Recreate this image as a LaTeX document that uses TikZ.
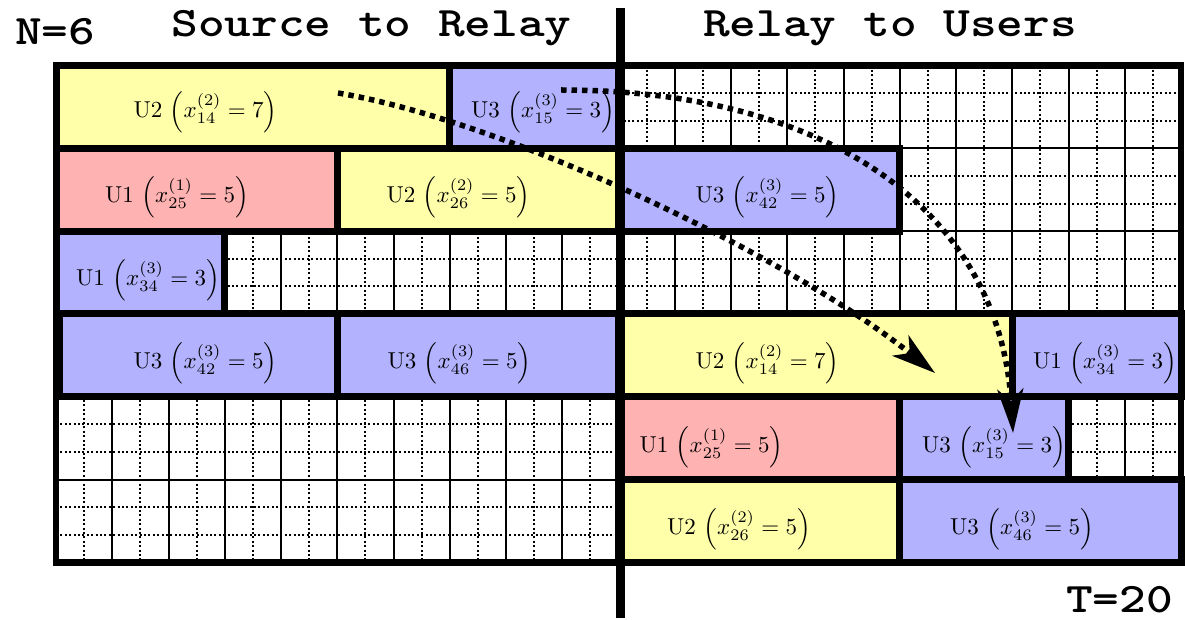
\documentclass[tikz,border=0pt]{standalone}
\usepackage{graphicx}
\usetikzlibrary{arrows.meta}
\definecolor{uyel}{RGB}{255,255,170}
\definecolor{upnk}{RGB}{255,178,178}
\definecolor{ublu}{RGB}{178,178,255}
\newcommand\ulab[4]{\scalebox{2.3}{U#1~$\left(x^{(#2)}_{#3}=#4\right)$}}
\tikzset{
  gridline/.style={line width=2pt,black},
  subline/.style={line width=2pt,black,dash pattern=on 2pt off 2.4pt},
  ubox/.style={draw=black,line width=7pt,inner sep=0pt,outer sep=0pt,anchor=north west},
  frameline/.style={line width=6.5pt,black},
  ulabel/.style={font=\normalsize,inner sep=0pt,text=black},
  ttl/.style={font=\fontsize{42}{48}\selectfont\ttfamily\bfseries,inner sep=0pt},
  flow/.style={line width=5.5pt,dash pattern=on 5.5pt off 5pt,-{Stealth[length=44pt,width=26pt,inset=12pt]}}
}
\newcommand\cw{56.25}
\newcommand\rh{82.83}
% #1 name, #2 first column, #3 number of columns, #4 row, #5 colour
\newcommand\placebox[5]{%
  \node[ubox,fill=#5,minimum width={#3*\cw pt},minimum height={\rh pt}] (#1) at ({56+#2*\cw},{65.5+#4*\rh}) {};}
\begin{document}
\begin{tikzpicture}[x=1pt,y=-1pt]
\useasboundingbox (0,0) rectangle (1185,620);
% grid
\foreach \i in {0,...,19} \draw[subline] ({56+(\i+0.5)*\cw},65.5) -- ++(0,497);
\foreach \j in {0,...,5} \foreach \k in {1,2} \draw[subline] (56,{65.5+(\j+\k/3)*\rh}) -- (1181,{65.5+(\j+\k/3)*\rh});
\foreach \i in {1,...,19} \draw[gridline] ({56+\i*\cw},65.5) -- ++(0,497);
\foreach \j in {1,...,5} \draw[gridline] (56,{65.5+\j*\rh}) -- (1181,{65.5+\j*\rh});
% source to relay
\placebox{sA}{0}{7}{0}{uyel}
\placebox{sB}{7}{3}{0}{ublu}
\placebox{sC}{0}{5}{1}{upnk}
\placebox{sD}{5}{5}{1}{uyel}
\placebox{sE}{0}{3}{2}{ublu}
\node[ubox,fill=ublu,minimum width={5*\cw pt-3.5pt},minimum height={\rh pt}] (sF) at ({59.5},{65.5+3*\rh}) {};
\placebox{sG}{5}{5}{3}{ublu}
% relay to users
\placebox{rA}{10}{5}{1}{ublu}
\placebox{rB}{10}{7}{3}{uyel}
\placebox{rC}{17}{3}{3}{ublu}
\placebox{rD}{10}{5}{4}{upnk}
\placebox{rE}{15}{3}{4}{ublu}
\placebox{rF}{10}{5}{5}{uyel}
\placebox{rG}{15}{5}{5}{ublu}
% frame and divider
\draw[frameline] (56,65.5) rectangle (1181,562.5);
\coordinate (dtop) at (620,8);
\coordinate (dbot) at (620,618);
\draw[line width=9pt] (dtop) -- (dbot);
% labels
\node[ulabel] (lsA) at (205.5,112) {\ulab{2}{2}{14}{7}};
\node[ulabel] (lsB) at (543,112) {\ulab{3}{3}{15}{3}};
\node[ulabel] (lsC) at (177,197) {\ulab{1}{1}{25}{5}};
\node[ulabel] (lsD) at (458.5,197) {\ulab{2}{2}{26}{5}};
\node[ulabel] (lsE) at (148,280) {\ulab{1}{3}{34}{3}};
\node[ulabel] (lsF) at (205.5,363) {\ulab{3}{3}{42}{5}};
\node[ulabel] (lsG) at (459.5,363) {\ulab{3}{3}{46}{5}};
\node[ulabel] (lrA) at (767.5,197) {\ulab{3}{3}{42}{5}};
\node[ulabel] (lrB) at (767.5,363) {\ulab{2}{2}{14}{7}};
\node[ulabel] (lrC) at (1105,363) {\ulab{1}{3}{34}{3}};
\node[ulabel] (lrD) at (711.5,447) {\ulab{1}{1}{25}{5}};
\node[ulabel] (lrE) at (994,447) {\ulab{3}{3}{15}{3}};
\node[ulabel] (lrF) at (739,529) {\ulab{2}{2}{26}{5}};
\node[ulabel] (lrG) at (1022,529) {\ulab{3}{3}{46}{5}};
% titles
\node[ttl,anchor=base] (tsr) at (371.5,37) {\scalebox{1.21}[1]{Source to Relay}};
\node[ttl,anchor=base] (tru) at (890,37) {\scalebox{1.21}[1]{Relay to Users}};
\node[ttl,anchor=base west] (tn) at (15,45) {\scalebox{1.21}[1]{N=6}};
\node[ttl,anchor=base east] (tt) at (1173,612) {\scalebox{1.21}[1]{T=20}};
% flows
\coordinate (f1s) at (338,93);
\coordinate (f1e) at (935,373);
\coordinate (f2s) at (561,90);
\coordinate (f2e) at (1013,433);
\draw[flow] (f1s) .. controls (500,120) and (780,250) .. (f1e);
\draw[flow] (f2s) .. controls (841,90) and (1000,220) .. (f2e);
\end{tikzpicture}
\end{document}
